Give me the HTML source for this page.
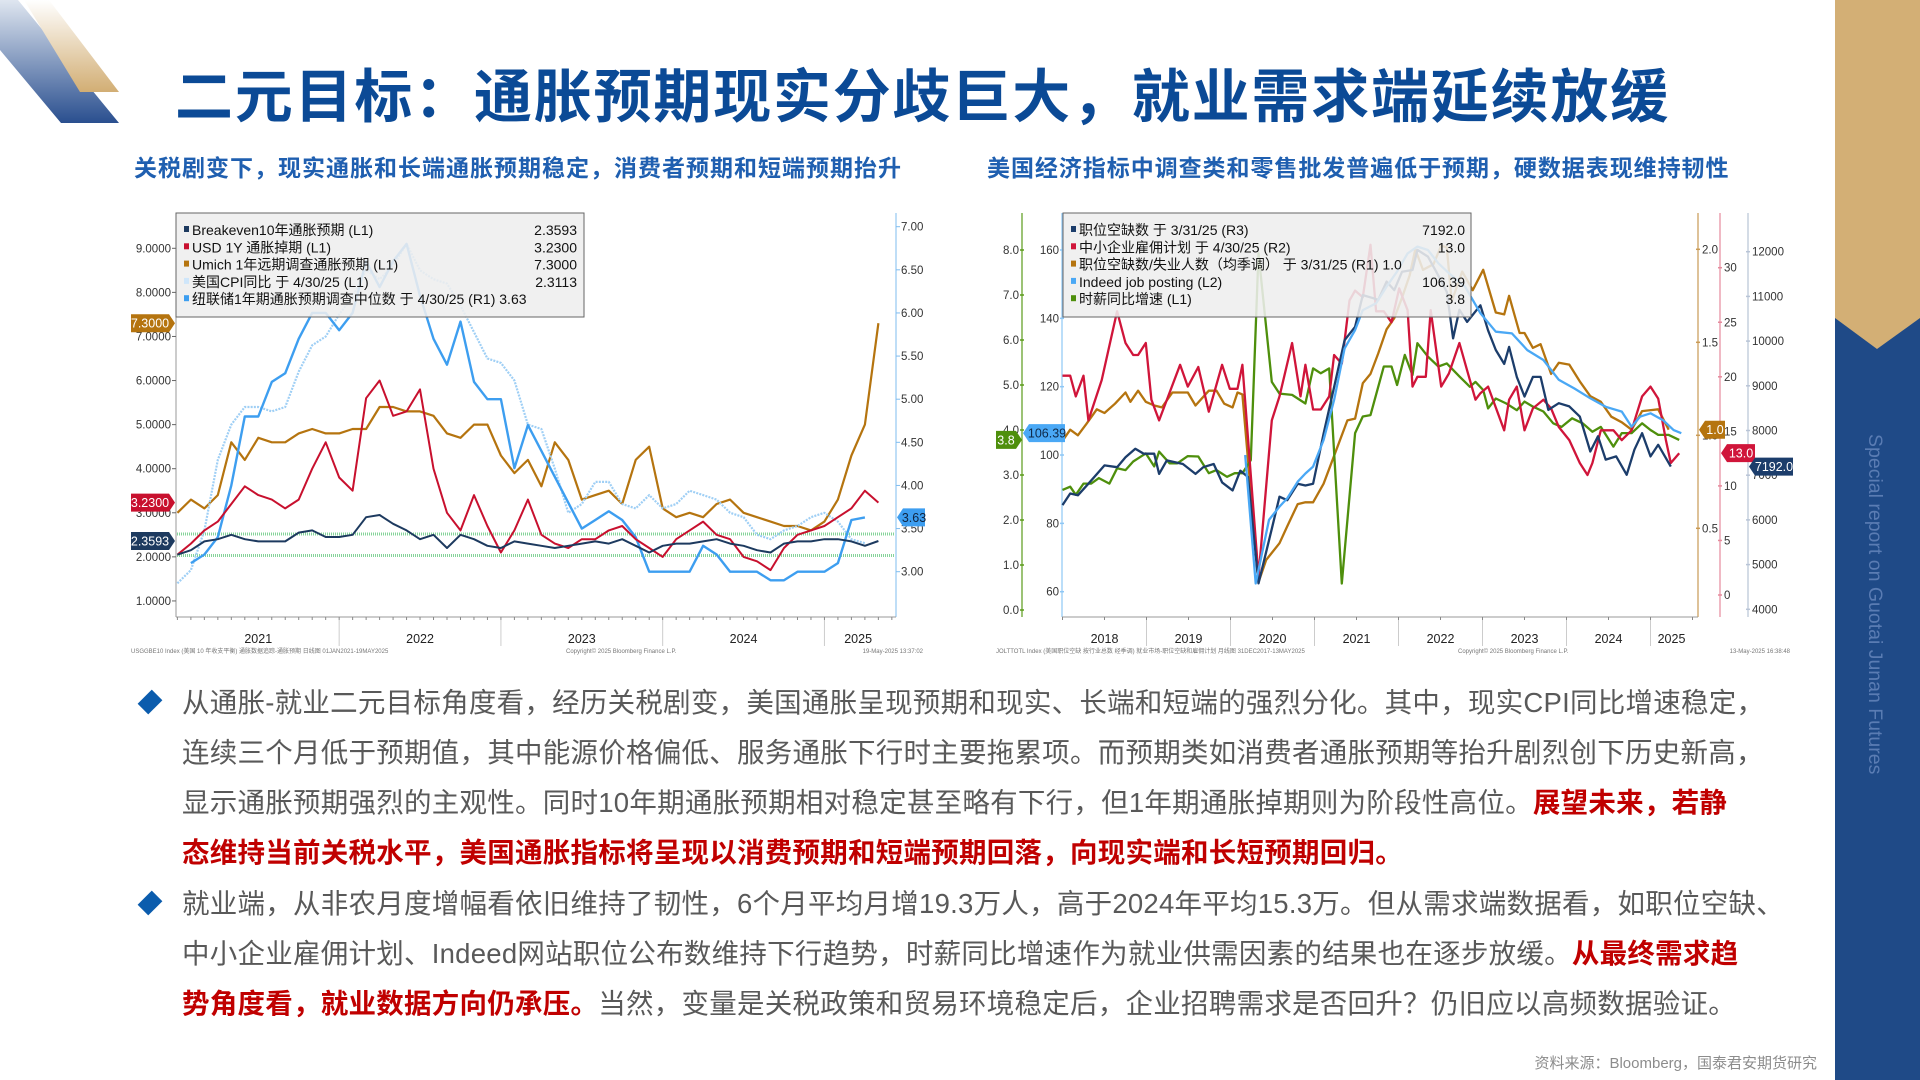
<!DOCTYPE html>
<html><head><meta charset="utf-8">
<style>
*{margin:0;padding:0;box-sizing:border-box}
body{width:1920px;height:1080px;overflow:hidden;background:#fff;position:relative;font-family:"Liberation Sans","Noto Sans CJK SC",sans-serif}
.abs{position:absolute}
#title{left:175px;top:62px;font-size:58px;font-weight:bold;color:#0b4a96;letter-spacing:1.8px;white-space:nowrap;line-height:72px}
.sub{top:152px;font-size:23px;font-weight:bold;color:#1f5fb0;white-space:nowrap;line-height:32px}
.body{left:182px;font-size:27.5px;color:#595959;white-space:nowrap;line-height:50px;letter-spacing:0.25px}
.red{color:#c00000;font-weight:bold}
.bul{left:140px;width:20px;height:20px;background:#0b5cad;transform:rotate(45deg) scaleX(0.75)}
svg text{font-family:"Liberation Sans","Noto Sans CJK SC",sans-serif}
</style></head><body>
<svg class="abs" style="left:0;top:0" width="130" height="130">
<defs><linearGradient id="gb" x1="0" y1="0" x2="0" y2="1"><stop offset="0" stop-color="#dfe6f0"/><stop offset="1" stop-color="#2a4f8f"/></linearGradient>
<linearGradient id="gg" x1="0" y1="0" x2="0" y2="1"><stop offset="0" stop-color="#ffffff"/><stop offset="1" stop-color="#d2ae74"/></linearGradient></defs>
<polygon points="0,0 18,0 119,123 61,123 0,50" fill="url(#gb)"/>
<polygon points="24,0 49,0 119,92 80,92" fill="url(#gg)"/>
</svg>
<div class="abs" style="left:1835px;top:0;width:85px;height:1080px;background:#1f4a87"></div>
<svg class="abs" style="left:1835px;top:0" width="85" height="360"><polygon points="0,0 85,0 85,318 42,349 0,318" fill="#d3af75"/></svg>
<div class="abs" style="left:1863px;top:434px;writing-mode:vertical-rl;font-size:19.5px;color:#5a7cb3;white-space:nowrap">Special report on Guotai Junan Futures</div>

<div id="title" class="abs">二元目标：通胀预期现实分歧巨大，就业需求端延续放缓</div>
<div class="abs sub" style="left:134px;letter-spacing:1.0px">关税剧变下，现实通胀和长端通胀预期稳定，消费者预期和短端预期抬升</div>
<div class="abs sub" style="left:987px;letter-spacing:0.95px">美国经济指标中调查类和零售批发普遍低于预期，硬数据表现维持韧性</div>

<svg id="chartL" class="abs" style="left:0;top:0" width="960" height="670"></svg>
<svg id="chartR" class="abs" style="left:960px;top:0" width="870" height="670"></svg>

<div class="abs bul" style="top:692px"></div>
<div class="abs bul" style="top:893px"></div>
<div class="abs body" style="top:678px">
<div>从通胀-就业二元目标角度看，经历关税剧变，美国通胀呈现预期和现实、长端和短端的强烈分化。其中，现实CPI同比增速稳定，</div>
<div>连续三个月低于预期值，其中能源价格偏低、服务通胀下行时主要拖累项。而预期类如消费者通胀预期等抬升剧烈创下历史新高，</div>
<div>显示通胀预期强烈的主观性。同时10年期通胀预期相对稳定甚至略有下行，但1年期通胀掉期则为阶段性高位。<span class="red">展望未来，若静</span></div>
<div class="red">态维持当前关税水平，美国通胀指标将呈现以消费预期和短端预期回落，向现实端和长短预期回归。</div>
</div>
<div class="abs body" style="top:879px">
<div>就业端，从非农月度增幅看依旧维持了韧性，6个月平均月增19.3万人，高于2024年平均15.3万。但从需求端数据看，如职位空缺、</div>
<div>中小企业雇佣计划、Indeed网站职位公布数维持下行趋势，时薪同比增速作为就业供需因素的结果也在逐步放缓。<span class="red">从最终需求趋</span></div>
<div><span class="red">势角度看，就业数据方向仍承压。</span>当然，变量是关税政策和贸易环境稳定后，企业招聘需求是否回升？仍旧应以高频数据验证。</div>
</div>
<div class="abs" style="right:103px;top:1052px;font-size:15px;color:#8c8c8c;white-space:nowrap">资料来源：Bloomberg，国泰君安期货研究</div>

<script>
// ===== Left chart data (months since Jan 2021) =====
const lMonths = [];
for (let i = 0; i <= 52; i++) lMonths.push(i);
const breakeven10 = [2.05,2.15,2.35,2.4,2.5,2.4,2.35,2.35,2.35,2.55,2.6,2.45,2.45,2.5,2.9,2.95,2.75,2.6,2.4,2.5,2.2,2.5,2.4,2.25,2.2,2.35,2.3,2.25,2.2,2.25,2.3,2.35,2.3,2.4,2.25,2.1,2.25,2.3,2.3,2.35,2.4,2.3,2.25,2.15,2.1,2.3,2.35,2.35,2.4,2.4,2.35,2.25,2.36];
const usd1ySwap = [2.05,2.3,2.6,2.8,3.2,3.6,3.4,3.3,3.1,3.3,4.0,4.6,3.8,3.5,5.6,6.0,5.2,5.3,5.8,4.0,3.0,2.6,3.4,2.7,2.1,2.6,3.3,2.5,2.3,2.2,2.4,2.4,2.6,2.7,2.4,2.2,2.0,2.4,2.6,2.8,2.5,2.4,2.0,1.9,1.7,2.2,2.5,2.6,2.7,2.9,3.1,3.5,3.23];
const umich1y = [3.0,3.3,3.1,3.4,4.6,4.2,4.7,4.6,4.6,4.8,4.9,4.8,4.8,4.9,4.9,5.4,5.4,5.3,5.3,5.2,4.8,4.7,5.0,5.0,4.3,3.9,4.2,3.6,4.6,4.2,3.3,3.4,3.5,3.2,4.2,4.5,3.1,2.9,3.0,2.9,3.2,3.3,3.0,2.9,2.8,2.7,2.7,2.6,2.8,3.3,4.3,5.0,7.3];
const cpiMonths = lMonths.slice(0,52);
const cpiYoY = [1.4,1.7,2.6,4.2,5.0,5.4,5.4,5.3,5.4,6.2,6.8,7.0,7.5,7.9,8.5,8.3,8.6,9.1,8.5,8.3,8.2,7.7,7.1,6.5,6.4,6.0,5.0,4.9,4.0,3.0,3.2,3.7,3.7,3.2,3.1,3.4,3.1,3.2,3.5,3.4,3.3,3.0,2.9,2.5,2.4,2.6,2.7,2.9,3.0,2.8,2.4,2.31];
const nyFedMonths = lMonths.slice(1,52);
const nyFed1y = [3.1,3.2,3.4,4.0,4.8,4.8,5.2,5.3,5.7,6.0,6.0,5.8,6.0,6.6,6.3,6.6,6.8,6.2,5.7,5.4,5.9,5.2,5.0,5.0,4.2,4.7,4.4,4.1,3.8,3.5,3.6,3.7,3.6,3.4,3.0,3.0,3.0,3.0,3.3,3.2,3.0,3.0,3.0,2.9,2.9,3.0,3.0,3.0,3.1,3.6,3.63];
const lLeftTicks = [1,2,3,4,5,6,7,8,9];
const lRightTicks = [3.0,3.5,4.0,4.5,5.0,5.5,6.0,6.5,7.0];
const lYears = ["2021","2022","2023","2024","2025"];
const lRefLines = [2.52,2.03];

// ===== Right chart data (months since Jan 2018) =====
const navyM = [0,1.1,2.2,3.7,6,7.8,9,10.4,11.6,13.1,13.8,14.9,17.2,19,20.1,21.6,22.8,24.3,25.4,26.5,28,29.9,31,32.1,33.6,34.7,35.8,37.3,38.8,40.3,41.8,42.9,44.4,45.1,46.3,47.4,48.5,50,50.7,52.2,53.4,54.9,55.8,56.7,57.8,59.7,60.8,61.9,63.1,63.8,64.9,66,67.2,68.3,69.4,70.9,72.4,73.9,75.4,76.5,77.6,79.1,80.6,81.7,82.8,84,85.1,86.9];
const jobOpenings = [6330,6590,6550,6810,7220,7180,7400,7590,7480,7480,7030,7330,7250,7030,7180,7250,6840,6660,7100,6960,4580,5800,6520,6440,6810,6770,6810,7930,8970,10020,10320,11030,10960,10920,11330,11140,11550,11590,12040,11890,11550,11100,10060,10700,10430,10800,10240,9800,9490,9870,9200,8760,9200,9200,8460,8610,8540,8310,7530,7870,7350,7420,7010,7570,7940,7420,7680,7192];
const redM = [0,1.1,1.9,3,3.7,5.6,7.8,9,10.1,10.8,11.9,12.7,13.8,16.8,17.9,19.4,20.9,22.8,23.9,25,25.7,28,29.9,31,32.8,34,34.7,35.8,36.9,38.1,38.8,39.9,41,41.8,42.9,44,44.8,45.9,47,48.1,49.3,50,50.7,51.9,52.6,54.1,55.2,56.7,57.8,59,59.7,60.8,63.1,63.8,64.9,66,67.2,68.7,69.8,70.9,72.4,73.9,75,75.7,76.9,78.7,79.9,81.3,82.8,84,85.1,86.2,86.9,88.1];
const nfibHiring = [20.1,20.1,18.2,20.1,16.0,19.7,26.0,23.1,22.0,22.0,23.1,17.9,16.0,21.1,19.1,20.9,16.8,21.1,18.9,18.9,21.1,1.7,16.0,18.2,23.1,18.2,21.1,17.0,17.0,18.2,22.0,21.2,27.0,27.9,27.3,32.1,26.0,26.0,25.0,28.1,26.1,19.1,20.0,20.0,26.1,19.1,20.3,23.1,20.6,17.9,18.5,19.1,15.1,17.9,19.1,15.1,17.1,17.9,17.1,15.4,14.2,12.1,11.0,12.1,15.1,15.1,14.2,15.1,18.2,19.1,18.0,14.2,12.1,13.0];
const brownM = [0,1.1,2.2,3.4,4.9,6,7.5,9,9.7,10.8,11.9,13.1,14.2,15.7,16.8,17.9,19,20.9,22,23.1,24.3,25,25.7,28,29.1,31,32.1,33.6,34.7,35.8,37.3,38.8,40.7,41.8,42.9,44,45.1,46.3,47.4,48.5,49.6,50.4,51.5,53,54.1,54.9,55.6,57.1,58.6,60.1,61.9,63.1,63.8,65.3,66,67.2,68.3,69.8,70.9,72.4,73.9,75.4,76.9,78.4,79.9,81.3,82.8,85.1,86.6];
const vacPerUnemp = [0.97,1.03,1.00,1.06,1.14,1.12,1.17,1.23,1.18,1.24,1.18,1.16,1.15,1.23,1.23,1.23,1.16,1.24,1.24,1.17,1.15,1.23,1.22,0.21,0.33,0.42,0.51,0.63,0.64,0.64,0.74,0.89,1.08,1.09,1.28,1.33,1.44,1.57,1.63,1.74,1.86,2.00,1.89,1.92,2.02,2.01,1.72,1.88,1.78,1.89,1.66,1.65,1.75,1.55,1.55,1.47,1.49,1.33,1.39,1.38,1.29,1.21,1.18,1.10,1.07,1.03,1.13,1.14,1.03];
const blueM = [26.1,27.6,29.5,31,32.1,33.6,34.7,35.8,37.3,38.8,40.3,41.8,42.9,44.8,46.3,47.8,49.3,50.7,52.2,53.7,55.2,57.5,59.7,61.9,64.2,66.4,68.7,70.9,73.1,75.4,77.6,79.9,81.3,82.5,84,85.8,87.3,88.4];
const indeedPosting = [100.0,62.4,81.0,84.9,87.3,92.2,94.6,96.6,104.4,116.1,131.2,136.6,142.4,144.4,149.3,153.7,159.0,161.0,160.0,156.1,153.2,149.3,141.5,136.1,135.6,130.7,127.8,122.0,119.5,116.6,114.1,112.7,108.3,111.2,112.2,110.2,107.3,106.39];
const greenM = [0,1.1,1.9,3,4.1,5.2,6.7,7.8,9,10.1,11.9,13.1,13.8,15.3,16.4,17.9,19.4,20.9,22,23.5,24.6,25.7,26.9,28,29.9,31,32.8,34.7,35.8,36.9,38.1,39.9,41.8,42.9,44,45.9,47,47.8,48.9,50,50.7,52.2,53.7,54.9,56.7,58.2,59,60.1,60.8,61.9,63.4,64.9,66,67.2,68.7,70.1,71.3,72.8,74.3,75.7,76.9,78.7,79.9,81.3,82.8,84,85.1,86.6,88.1];
const wageGrowth = [2.67,2.74,2.56,2.81,2.81,2.93,2.81,3.15,3.11,3.30,3.48,3.19,3.52,3.26,3.26,3.42,3.41,3.04,3.11,2.96,3.04,3.04,3.33,7.93,5.07,4.81,4.78,4.59,5.37,5.26,5.37,0.59,3.93,4.30,4.33,5.41,5.41,5.00,5.67,5.22,5.93,5.63,5.41,5.48,5.19,4.96,5.07,4.89,4.48,4.70,4.59,4.44,4.63,4.52,4.41,4.15,4.07,4.26,4.15,3.96,4.07,3.63,3.93,3.93,4.15,4.00,3.89,3.89,3.78];
const rYears = ["2018","2019","2020","2021","2022","2023","2024","2025"];
const rL1Ticks = [0,1,2,3,4,5,6,7,8];
const rL2Ticks = [60,80,100,120,140,160];
const rR1Ticks = [0.5,1.0,1.5,2.0];
const rR2Ticks = [0,5,10,15,20,25,30];
const rR3Ticks = [4000,5000,6000,7000,8000,9000,10000,11000,12000];

const NS = "http://www.w3.org/2000/svg";
function mk(parent, tag, attrs, txt) {
  const e = document.createElementNS(NS, tag);
  for (const k in attrs) e.setAttribute(k, attrs[k]);
  if (txt !== undefined) e.textContent = txt;
  parent.appendChild(e);
  return e;
}
function pathD(xs, ys, fx, fy) {
  return xs.map((m, i) => (i ? "L" : "M") + fx(m).toFixed(1) + "," + fy(ys[i]).toFixed(1)).join("");
}
function tag(svg, x, y, w, label, fill, dir, color) {
  const g = mk(svg, "g", {});
  
  
  const pts = dir === "right"
    ? [[x, y-9],[x+w, y-9],[x+w+6, y],[x+w, y+9],[x, y+9]]
    : [[x+6, y-9],[x+w+6, y-9],[x+w+6, y+9],[x+6, y+9],[x, y]];
  mk(g, "polygon", {points: pts.map(p => p.join(",")).join(" "), fill: fill});
  mk(g, "text", {x: dir === "right" ? x + w/2 : x + 6 + w/2, y: y+4.5, "font-size": 12.5, fill: color || "#fff", "text-anchor": "middle"}, label);
}
function legend(svg, x, y, w, h, rows, valX, textX) {
  const g = mk(svg, "g", {});
  
  
  mk(g, "rect", {x: x, y: y, width: w, height: h, fill: "rgba(238,238,238,0.88)", stroke: "#666", "stroke-width": 1});
  rows.forEach((r, i) => {
    const cy = y + 17 + i * 17.3;
    const e = mk(g, "g", {});
    
    
    mk(e, "rect", {x: textX - 8, y: cy - 4, width: 5, height: 6, fill: r[2]});
    mk(e, "text", {x: textX, y: cy + 5, "font-size": 14, fill: "#111"}, r[0]);
    if (r[1]) mk(e, "text", {x: valX, y: cy + 5, "font-size": 14, fill: "#111", "text-anchor": "end"}, r[1]);
  });
}

// ===== Left chart =====
(function(){
  const svg = document.getElementById("chartL");
  const x = m => 177.4 + m * 13.48;
  const yL = v => 248.3 + (9 - v) * 44.08;
  const yR = v => 226.7 + (7 - v) * 86.25;
  const axes = mk(svg, "g", {});
  
  
  mk(axes, "line", {x1: 176, y1: 213, x2: 176, y2: 617, stroke: "#999"});
  mk(axes, "line", {x1: 896, y1: 213, x2: 896, y2: 617, stroke: "#7fbcef"});
  mk(axes, "line", {x1: 176, y1: 617, x2: 896, y2: 617, stroke: "#999"});
  lLeftTicks.forEach(v => {
    mk(axes, "line", {x1: 172, x2: 176, y1: yL(v), y2: yL(v), stroke: "#666"});
    const t = mk(axes, "text", {x: 171, y: yL(v) + 4, "font-size": 11.5, fill: "#333", "text-anchor": "end"}, v.toFixed(4));
    
    
  });
  lRightTicks.forEach(v => {
    mk(axes, "line", {x1: 896, x2: 900, y1: yR(v), y2: yR(v), stroke: "#7fbcef"});
    const t = mk(axes, "text", {x: 901, y: yR(v) + 4, "font-size": 11.5, fill: "#333"}, v.toFixed(2));
    
    
  });
  for (let m = 0; m <= 53; m++) mk(axes, "line", {x1: x(m), x2: x(m), y1: 617, y2: 620, stroke: "#888"});
  lYears.forEach((yr, i) => {
    if (i > 0) mk(axes, "line", {x1: x(12*i), x2: x(12*i), y1: 620, y2: 646, stroke: "#ccc"});
    const cx = i < 4 ? x(12*i + 6) : x(50.5);
    const t = mk(axes, "text", {x: cx, y: 643, "font-size": 12.5, fill: "#222", "text-anchor": "middle"}, yr);
    
    
  });
  lRefLines.forEach(v => {
    const l = mk(svg, "line", {x1: 177, x2: 895, y1: yL(v), y2: yL(v), stroke: "#86d49a", "stroke-width": 3, "stroke-dasharray": "1,1"});
    
    
  });
  const series = [
    [lMonths, umich1y, yL, "#b5740f", 2.2, null, 'line-umich-1y'],
    [cpiMonths, cpiYoY, yL, "#9fcff5", 2.2, "2,1.2", 'line-us-cpi-yoy'],
    [nyFedMonths, nyFed1y, yR, "#3d9ef0", 2.4, null, 'line-nyfed-1y'],
    [lMonths, usd1ySwap, yL, "#c8102e", 2, null, 'line-usd-1y-swap'],
    [lMonths, breakeven10, yL, "#1d3a5f", 2, null, 'line-breakeven-10y']
  ];
  series.forEach(s => {
    const p = mk(svg, "path", {d: pathD(s[0], s[1], x, s[2]), fill: "none", stroke: s[3], "stroke-width": s[4], "stroke-linejoin": "round"});
    if (s[5]) p.setAttribute("stroke-dasharray", s[5]);
    
    
  });
  legend(svg, 176, 213, 408, 104, [
    ["Breakeven10年通胀预期 (L1)", "2.3593", "#1d3a5f"],
    ["USD 1Y 通胀掉期 (L1)", "3.2300", "#c8102e"],
    ["Umich 1年远期调查通胀预期 (L1)", "7.3000", "#b5740f"],
    ["美国CPI同比 于 4/30/25 (L1)", "2.3113", "#cfe6fa"],
    ["纽联储1年期通胀预期调查中位数 于 4/30/25 (R1) 3.63", "", "#3d9ef0"]
  ], 577, 192);
  tag(svg, 131, yL(umich1y[52]), 38, "7.3000", "#b5740f", "right");
  tag(svg, 131, yL(usd1ySwap[52]), 38, "3.2300", "#c8102e", "right");
  tag(svg, 131, yL(breakeven10[52]), 38, "2.3593", "#1d3a5f", "right");
  tag(svg, 897, yR(nyFed1y[nyFed1y.length-1]), 22, "3.63", "#3d9ef0", "left", "#10243f");
  const f = mk(svg, "g", {"font-size": 6, fill: "#777"});
  
  
  mk(f, "text", {x: 131, y: 653}, "USGGBE10 Index (美国 10 年收支平衡) 通胀数据追踪-通胀预期  日线图 01JAN2021-19MAY2025");
  mk(f, "text", {x: 566, y: 653}, "Copyright© 2025 Bloomberg Finance L.P.");
  mk(f, "text", {x: 923, y: 653, "text-anchor": "end"}, "19-May-2025 13:37:02");
})();

// ===== Right chart (svg offset 960) =====
(function(){
  const svg = document.getElementById("chartR");
  const O = 960;
  const x = m => 1062.5 - O + m * 7.0;
  const yL1 = v => 610 - 45 * v;
  const yL2 = v => 250 + (160 - v) * 3.417;
  const yR1 = v => 249.3 + (2 - v) * 186;
  const yR2 = v => 595 - 10.91 * v;
  const yR3 = v => 251.7 + (12000 - v) * 0.0447;
  const axes = mk(svg, "g", {});
  
  
  const ax = [
    [1022, "#5b9b1a", rL1Ticks, yL1, v => v.toFixed(1), "end"],
    [1062, "#8ec7f5", rL2Ticks, yL2, v => String(v), "end"],
    [1698, "#c99a55", rR1Ticks, yR1, v => v.toFixed(1), "start"],
    [1720, "#e58a9c", rR2Ticks, yR2, v => String(v), "start"],
    [1748, "#b8c4d6", rR3Ticks, yR3, v => String(v), "start"]
  ];
  ax.forEach(a => {
    const X = a[0] - O;
    mk(axes, "line", {x1: X, x2: X, y1: 213, y2: 617, stroke: a[1], "stroke-width": 1.2});
    a[2].forEach(v => {
      const yy = a[3](v);
      mk(axes, "line", {x1: X - 2, x2: X + 2, y1: yy, y2: yy, stroke: a[1], "stroke-width": 1.5});
      const t = mk(axes, "text", {x: a[5] === "end" ? X - 3 : X + 4, y: yy + 4, "font-size": 11.5, fill: "#333", "text-anchor": a[5]}, a[4](v));
      
      
    });
  });
  mk(axes, "line", {x1: 1062 - O, x2: 1698 - O, y1: 617, y2: 617, stroke: "#999"});
  for (let m = 0; m <= 90; m += 6) mk(axes, "line", {x1: x(m), x2: x(m), y1: 617, y2: 620, stroke: "#888"});
  rYears.forEach((yr, i) => {
    if (i > 0) mk(axes, "line", {x1: x(12*i), x2: x(12*i), y1: 620, y2: 646, stroke: "#ccc"});
    const cx = i < 7 ? x(12*i + 6) : x(87);
    const t = mk(axes, "text", {x: cx, y: 643, "font-size": 12.5, fill: "#222", "text-anchor": "middle"}, yr);
    
    
  });
  const series = [
    [brownM, vacPerUnemp, yR1, "#b5740f", 'line-vacancy-unemployed-ratio'],
    [greenM, wageGrowth, yL1, "#4e8f0c", 'line-wage-growth'],
    [redM, nfibHiring, yR2, "#d0153a", 'line-nfib-hiring-plans'],
    [navyM, jobOpenings, yR3, "#1c3d6b", 'line-job-openings'],
    [blueM, indeedPosting, yL2, "#4aa8f5", 'line-indeed-postings']
  ];
  series.forEach(s => {
    const p = mk(svg, "path", {d: pathD(s[0], s[1], x, s[2]), fill: "none", stroke: s[3], "stroke-width": 2.3, "stroke-linejoin": "round"});
    
    
  });
  legend(svg, 1063 - O, 213, 408, 104, [
    ["职位空缺数 于 3/31/25 (R3)", "7192.0", "#1c3d6b"],
    ["中小企业雇佣计划 于 4/30/25 (R2)", "13.0", "#d0153a"],
    ["职位空缺数/失业人数（均季调） 于 3/31/25 (R1) 1.0", "", "#b5740f"],
    ["Indeed job posting (L2)", "106.39", "#4aa8f5"],
    ["时薪同比增速 (L1)", "3.8", "#4e8f0c"]
  ], 1465 - O, 1079 - O);
  tag(svg, 1023 - O, yL2(indeedPosting[indeedPosting.length-1]), 36, "106.39", "#4aa8f5", "left", "#0f2a4a");
  tag(svg, 996 - O, yL1(wageGrowth[wageGrowth.length-1]), 20, "3.8", "#4e8f0c", "right");
  tag(svg, 1699 - O, yR1(vacPerUnemp[vacPerUnemp.length-1]), 20, "1.0", "#b5740f", "left");
  tag(svg, 1721 - O, yR2(nfibHiring[nfibHiring.length-1]), 28, "13.0", "#d0153a", "left");
  tag(svg, 1749 - O, yR3(jobOpenings[jobOpenings.length-1]), 38, "7192.0", "#1c3d6b", "left");
  const f = mk(svg, "g", {"font-size": 6, fill: "#777"});
  
  
  mk(f, "text", {x: 996 - O, y: 653}, "JOLTTOTL Index (美国职位空缺 按行业总数 经季调) 就业市场-职位空缺和雇佣计划  月线图 31DEC2017-13MAY2025");
  mk(f, "text", {x: 1458 - O, y: 653}, "Copyright© 2025 Bloomberg Finance L.P.");
  mk(f, "text", {x: 1790 - O, y: 653, "text-anchor": "end"}, "13-May-2025 16:38:48");
})();
</script>
</body></html>
